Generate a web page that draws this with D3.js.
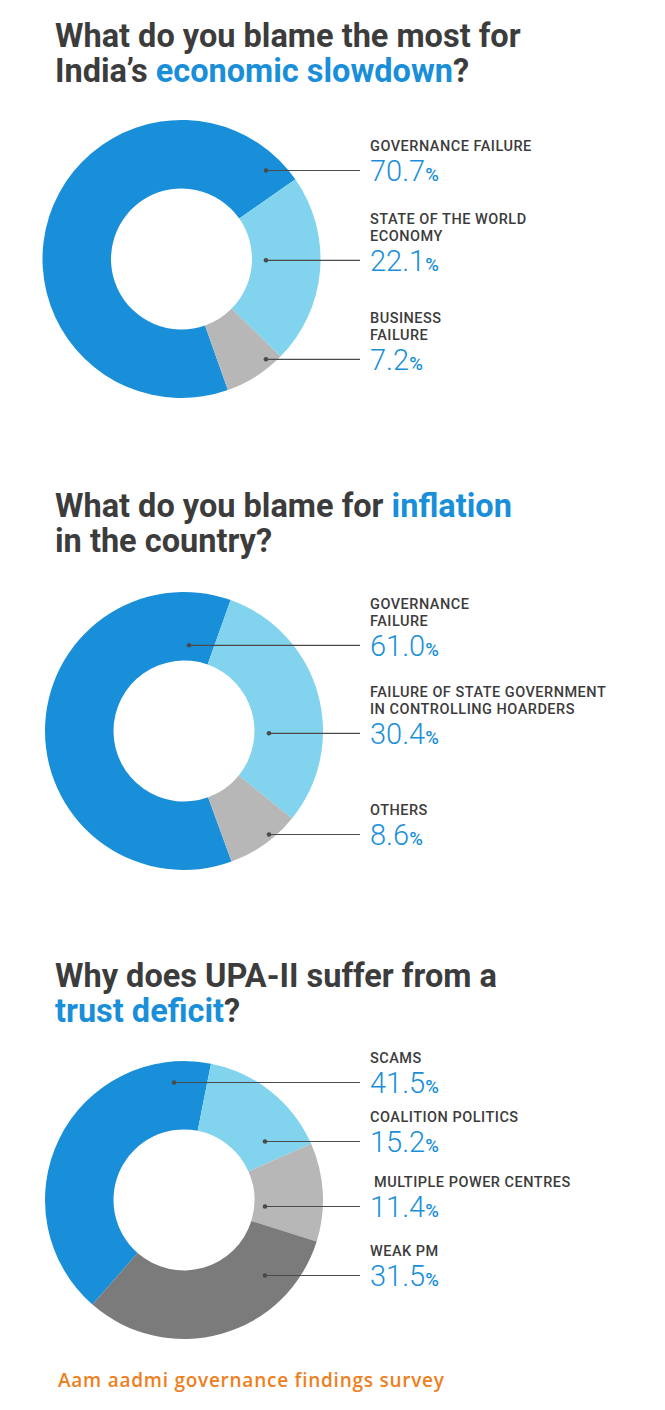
<!DOCTYPE html>
<html>
<head>
<meta charset="utf-8">
<script src="https://cdn.jsdelivr.net/npm/d3@7"></script>
<style>
  body { margin: 0; background: #fff; }
  svg { display: block; }
</style>
</head>
<body>
<svg id="chart"></svg>
<script>
// datos de las tres encuestas

let slowdownLabels = [["GOVERNANCE FAILURE"], ["STATE OF THE WORLD", "ECONOMY"], ["BUSINESS", "FAILURE"]];
let slowdownValues = [70.7, 22.1, 7.2];

let inflationLabels = [["GOVERNANCE", "FAILURE"], ["FAILURE OF STATE GOVERNMENT", "IN CONTROLLING HOARDERS"], ["OTHERS"]];
let inflationValues = [61.0, 30.4, 8.6];

let trustLabels = [["SCAMS"], ["COALITION POLITICS"], [" MULTIPLE POWER CENTRES"], ["WEAK PM"]];
let trustValues = [41.5, 15.2, 11.4, 31.5];

// titulos: cada linea es una lista de trozos, true = trozo en azul
let slowdownTitle = [[["What do you blame the most for", false]], [["India’s ", false], ["economic slowdown", true], ["?", false]]];
let inflationTitle = [[["What do you blame for ", false], ["inflation", true]], [["in the country?", false]]];
let trustTitle = [[["Why does UPA-II suffer from a", false]], [["trust deficit", true], ["?", false]]];

let footer = "Aam aadmi governance findings survey";

let svgWidth = 665;
let svgHeight = 1410;

let svg = d3.select('#chart')
	.attr("width", svgWidth)
	.attr("height", svgHeight);

let blue = "#1a8fd9";
let lightBlue = "#82d3ee";
let grey = "#b7b7b7";
let darkGrey = "#7b7b7b";
let textColor = "#3c3c3c";
let lineColor = "#4a4a4a";
let font = "Roboto, 'Liberation Sans', sans-serif";

// cada grafica: centro, angulo inicial, colores y donde van las etiquetas
let charts = [
	{
		title: slowdownTitle, titleY: 47, values: slowdownValues, labels: slowdownLabels,
		cx: 181.5, cy: 259, start: 160.5, colors: [blue, lightBlue, grey],
		baselines: [151, 224, 323], dotX: [266, 266, 266]
	},
	{
		title: inflationTitle, titleY: 517, values: inflationValues, labels: inflationLabels,
		cx: 184, cy: 731, start: 160, colors: [blue, lightBlue, grey],
		baselines: [609, 697, 815], dotX: [189, 269, 269]
	},
	{
		title: trustTitle, titleY: 987, values: trustValues, labels: trustLabels,
		cx: 184, cy: 1200, start: -138.8, colors: [blue, lightBlue, grey, darkGrey],
		baselines: [1063, 1122, 1187, 1256], dotX: [174, 265, 265, 265]
	}
];

let outerR = 139;
let innerR = 70.5;
let labelX = 370;
let lineEnd = 360;
let labelLineH = 16.8;
let titleLineH = 35;

let arc = d3.arc().innerRadius(innerR).outerRadius(outerR);

charts.forEach(function(c) {
	// titulo, una linea por elemento text
	c.title.forEach(function(line, li) {
		let t = svg.append("text")
			.attr("x", 55)
			.attr("y", c.titleY + li * titleLineH)
			.attr("font-family", font)
			.attr("font-weight", 700)
			.attr("font-size", 32.5)
			.attr("fill", textColor);
		line.forEach(function(part) {
			t.append("tspan")
				.attr("fill", part[1] ? blue : textColor)
				.text(part[0]);
		});
	});

	// donut
	let a0 = c.start * Math.PI / 180;
	let pie = d3.pie().sort(null).startAngle(a0).endAngle(a0 + 2 * Math.PI);
	let g = svg.append("g").attr("transform", "translate(" + c.cx + "," + c.cy + ")");

	g.selectAll("path")
		.data(pie(c.values))
		.enter()
		.append("path")
		.attr("d", arc)
		.attr("fill", function(d, i) { return c.colors[i]; });

	// etiquetas a la derecha
	c.values.forEach(function(v, i) {
		let b = c.baselines[i];
		let lines = c.labels[i];
		let label = svg.append("text")
			.attr("font-family", font)
			.attr("font-weight", 500)
			.attr("font-size", 14.5)
			.attr("letter-spacing", 0.5)
			.attr("fill", textColor);
		lines.forEach(function(l, k) {
			label.append("tspan")
				.attr("x", labelX)
				.attr("y", b + k * labelLineH)
				.attr("xml:space", "preserve")
				.text(l);
		});

		let numY = b + (lines.length - 1) * labelLineH + 30;
		let num = svg.append("text")
			.attr("x", labelX)
			.attr("y", numY)
			.attr("font-family", font)
			.attr("fill", blue);
		num.append("tspan")
			.attr("font-size", 29)
			.attr("font-weight", 300)
			.text(v.toFixed(1));
		num.append("tspan")
			.attr("font-size", 18.5)
			.attr("font-weight", 500)
			.text("%");

		let ly = numY - 10.5;
		svg.append("line")
			.attr("x1", c.dotX[i])
			.attr("x2", lineEnd)
			.attr("y1", ly)
			.attr("y2", ly)
			.attr("stroke", lineColor)
			.attr("stroke-width", 1.2);
		svg.append("circle")
			.attr("cx", c.dotX[i])
			.attr("cy", ly)
			.attr("r", 2.3)
			.attr("fill", lineColor);
	});
});

svg.append("text")
	.attr("x", 58)
	.attr("y", 1387)
	.attr("font-family", "'Open Sans', Roboto, sans-serif")
	.attr("font-weight", 600)
	.attr("font-size", 19)
	.attr("letter-spacing", 0.75)
	.attr("fill", "#ee7f1d")
	.text(footer);
</script>
</body>
</html>
